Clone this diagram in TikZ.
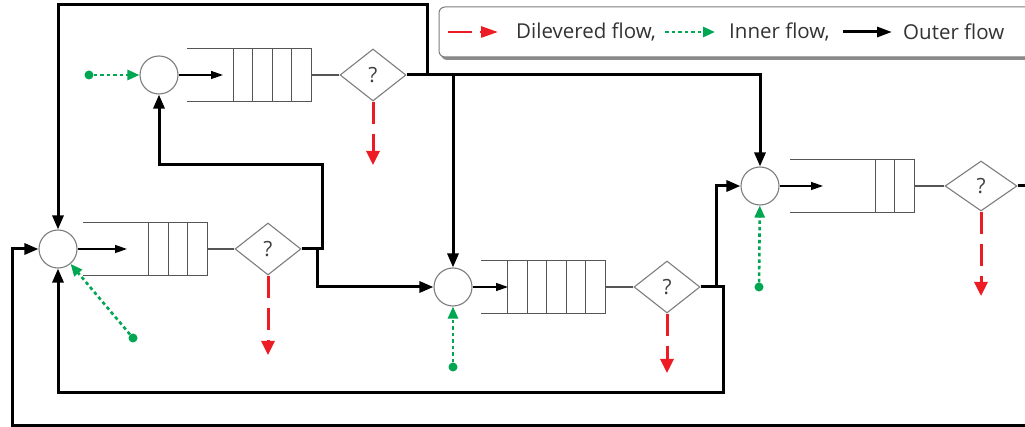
\documentclass[tikz,border=0pt]{standalone}
\usepackage{fontspec}
\setmainfont{Open Sans}
\usetikzlibrary{shapes.geometric,arrows.meta}
\definecolor{myred}{RGB}{237,28,36}
\definecolor{mygreen}{RGB}{0,166,81}
\definecolor{outl}{RGB}{125,125,125}
\definecolor{qline}{RGB}{85,85,85}
\begin{document}
\begin{tikzpicture}[x=1pt,y=-1pt,
  every node/.style={inner sep=0pt},
  junc/.style={circle, draw=outl, line width=1.1pt, minimum size=38pt, fill=white},
  dec/.style={diamond, draw=outl, line width=1.1pt, minimum width=66pt, minimum height=52pt, font=\fontsize{21}{21}\selectfont, text=black!75},
  qbox/.style={rectangle, minimum width=124pt, minimum height=53pt},
  qln/.style={draw=qline, line width=1.1pt},
  outer/.style={line width=3pt, -{Triangle[length=14pt,width=11pt]}},
  inarr/.style={line width=1.3pt, -{Triangle[length=12pt,width=8pt]}},
  deliv/.style={myred, line width=3pt, dash pattern=on 22pt off 10pt, -{Triangle[length=14pt,width=13pt]}},
  inner/.style={mygreen, line width=2.6pt, dash pattern=on 3.5pt off 3pt, -{Triangle[length=12pt,width=10pt]}},
  gdot/.style={circle, fill=mygreen, minimum size=9pt},
  leg/.style={anchor=west, font=\fontsize{20.5}{24}\selectfont, text=black!80}
]
\useasboundingbox (0,0) rectangle (1025,427);
\clip (0,0) rectangle (1025,427);

% legend
\fill[black!45, rounded corners=6pt] (441,10) rectangle (1042,60);
\draw[outl, fill=white, rounded corners=6pt, line width=1pt] (439,7) rectangle (1040,57);
\node[leg] (l1) at (516,32) {Dilevered flow,};
\node[leg] (l2) at (729,32) {Inner flow,};
\node[leg] (l3) at (903,32) {Outer flow};
\draw[myred, line width=2.8pt, dash pattern=on 24pt off 8pt, -{Triangle[length=17pt,width=11pt]}] ([xshift=-68pt]l1.west) -- ([xshift=-18pt]l1.west);
\draw[inner] ([xshift=-64pt]l2.west) -- ([xshift=-14pt]l2.west);
\draw[line width=3pt, -{Triangle[length=15pt,width=10pt]}] ([xshift=-60pt]l3.west) -- ([xshift=-11pt]l3.west);

% junction circles
\node[junc] (c1) at (159,75) {};
\node[junc] (c2) at (58,249) {};
\node[junc] (c3) at (453,287) {};
\node[junc] (c4) at (760,186) {};

% decisions
\node[dec] (d1) at (373,75) {?};
\node[dec] (d2) at (268,249) {?};
\node[dec] (d3) at (667,287) {?};
\node[dec, minimum width=72pt, minimum height=50pt] (d4) at (981,186) {?};

% queues
\node[qbox] (q1) at (249,75) {};
\node[qbox] (q2) at (145,249) {};
\node[qbox] (q3) at (543,287) {};
\node[qbox] (q4) at (852,186) {};
\foreach \q/\n in {q1/4,q2/3,q3/5,q4/2}{
  \draw[qln] (\q.north west) -- (\q.north east) -- (\q.south east) -- (\q.south west);
  \foreach \k in {1,...,\n}
    \draw[qln] ([xshift=-\k*19.5pt]\q.north east) -- ([xshift=-\k*19.5pt]\q.south east);
}
\draw[qln] (q1.east) -- (d1.west);
\draw[qln] (q2.east) -- (d2.west);
\draw[qln] (q3.east) -- (d3.west);
\draw[qln] (q4.east) -- (d4.west);

% circle -> queue
\coordinate (t1) at (223,75);
\coordinate (t2) at (127,249);
\coordinate (t3) at (508,287);
\coordinate (t4) at (823,186);
\draw[inarr] (c1) -- (t1);
\draw[inarr] (c2) -- (t2);
\draw[inarr] (c3) -- (t3);
\draw[inarr] (c4) -- (t4);

% delivered flows
\coordinate (r1) at (373,165);
\coordinate (r2) at (268,355);
\coordinate (r3) at (667,373);
\coordinate (r4) at (981,296);
\draw[deliv] (d1.south) -- (r1);
\draw[deliv] (d2.south) -- (r2);
\draw[deliv] (d3.south) -- (r3);
\draw[deliv] (d4.south) -- (r4);

% inner flows
\node[gdot] (g1) at (89,75) {};
\node[gdot] (g2) at (133,338) {};
\node[gdot] (g3) at (453,367) {};
\node[gdot] (g4) at (759,287) {};
\draw[inner] (g1) -- (c1);
\draw[inner] (g2) -- (c2);
\draw[inner] (g3) -- (c3);
\draw[inner] (g4) -- (c4);

% outer flows
\coordinate (j1) at (427,75);
\coordinate (top) at (427,5);
\draw[outer] (d1.east) -| (c4.north);
\draw[outer] (j1) -- (top) -| (c2.north);
\draw[outer] (c3.north |- d1.east) -- (c3.north);

\coordinate (j2a) at (322,249);
\coordinate (j2b) at (322,165);
\coordinate (j2c) at (317,249);
\draw[outer] (d2.east) -- (j2a) -- (j2b) -| (c1.south);
\draw[outer] (j2c) |- (c3.west);

\coordinate (j3a) at (716,287);
\coordinate (j3b) at (723,287);
\coordinate (j3c) at (723,392);
\draw[outer] (d3.east) -- (j3a) |- (c4.west);
\draw[outer] (d3.east) -- (j3b) -- (j3c) -| (c2.south);

\coordinate (e1) at (1040,186);
\coordinate (e2) at (1040,425);
\coordinate (e3) at (12,425);
\draw[outer] (d4.east) -- (e1) -- (e2) -- (e3) |- (c2.west);
\end{tikzpicture}
\end{document}
